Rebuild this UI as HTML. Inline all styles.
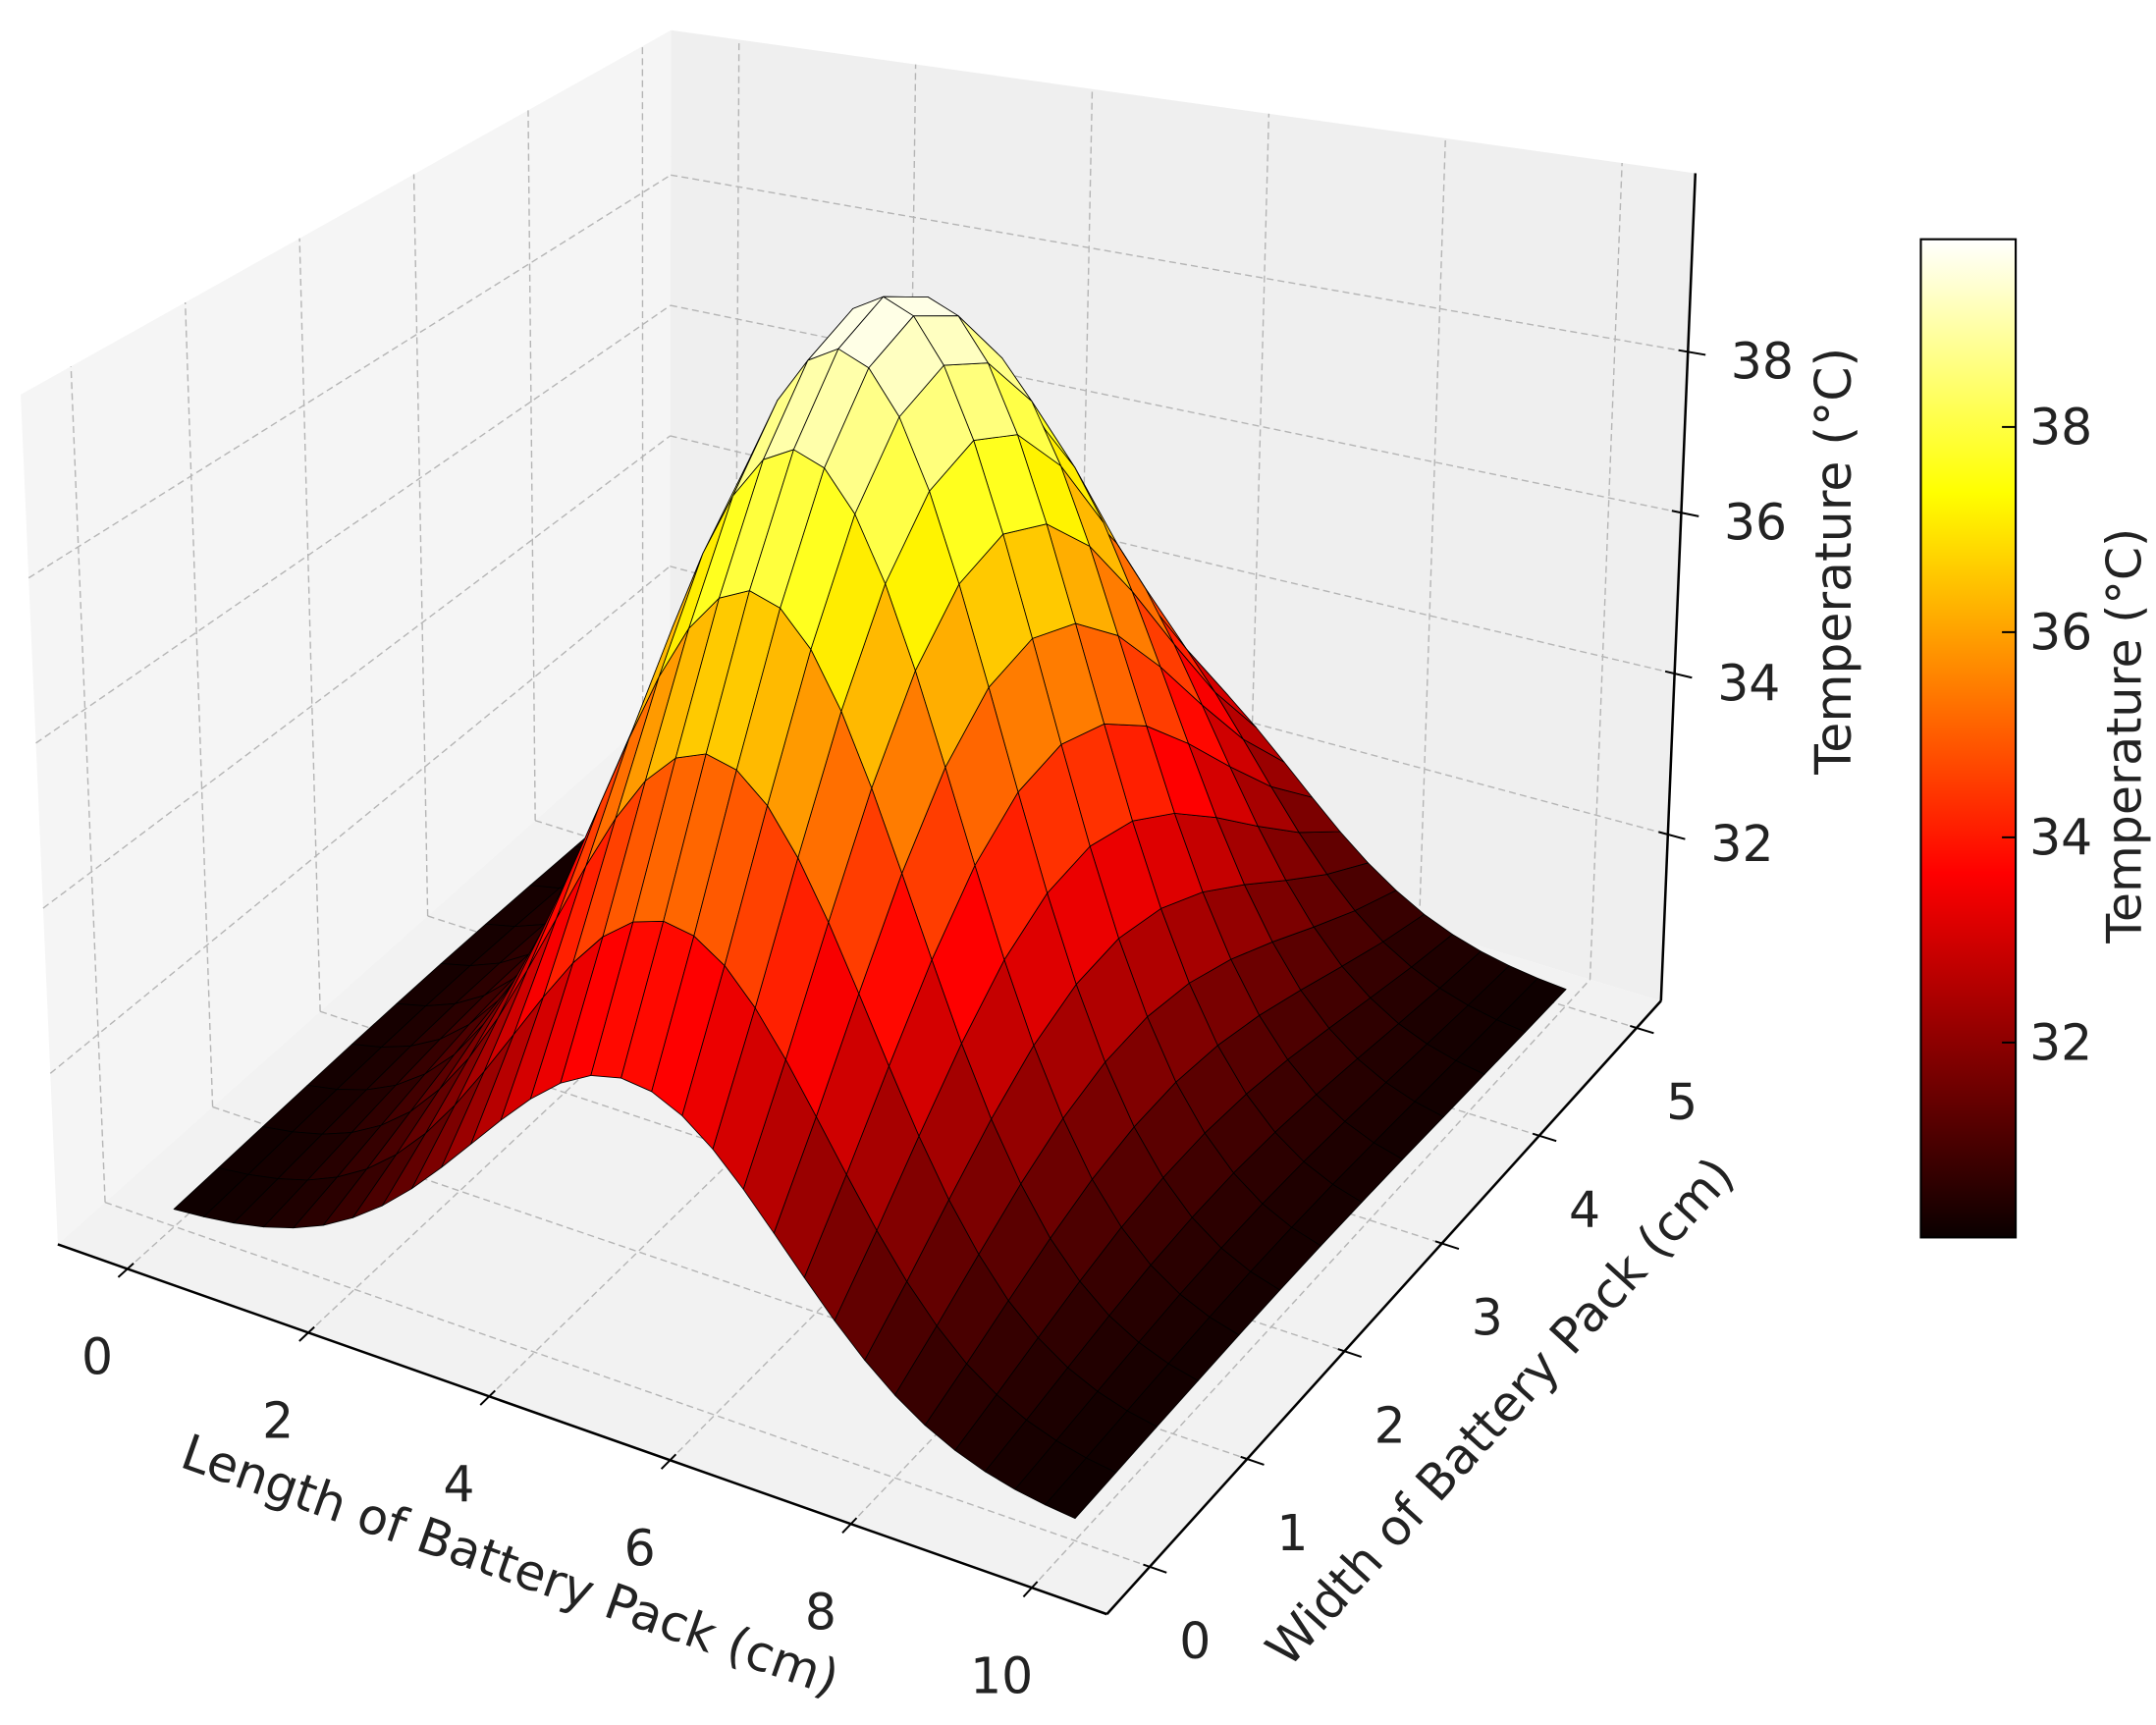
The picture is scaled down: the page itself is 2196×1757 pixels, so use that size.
<!DOCTYPE html>
<html><head><meta charset="utf-8"><title>Battery temperature surface</title>
<style>html,body{margin:0;padding:0;background:#fff}svg{display:block}text{font-family:"DejaVu Sans","Liberation Sans",sans-serif;fill:#222}</style>
</head><body>
<svg id="chart" xmlns="http://www.w3.org/2000/svg" width="2196" height="1757" viewBox="0 0 1568 1254.6">
<defs>
<linearGradient id="hotGrad" x1="0" y1="0" x2="0" y2="1">
<stop offset="0" stop-color="#ffffff"/><stop offset="0.254" stop-color="#ffff00"/><stop offset="0.635" stop-color="#ff0000"/><stop offset="1" stop-color="#0a0000"/>
</linearGradient>
</defs>
<g id="panes"></g>
<g id="grid"></g>
<g id="surface"></g>
<g id="axes"></g>
<text font-size="36" text-anchor="middle" transform="translate(367,1150) rotate(19.4)">Length of Battery Pack (cm)</text>
<text font-size="36" text-anchor="middle" transform="translate(1100,1035) rotate(-47.7)">Width of Battery Pack (cm)</text>
<text font-size="36" text-anchor="middle" transform="translate(1346,408) rotate(-90)">Temperature (°C)</text>
<g id="colorbar">
<rect x="1397" y="174" width="69" height="726" fill="url(#hotGrad)" stroke="#000" stroke-width="1.5"/>
</g>
<text font-size="35" text-anchor="middle" transform="translate(1557,535) rotate(-90)">Temperature (°C)</text>
</svg>
<script>
// ---- data ----
const xValues = [0,0.333,0.667,1,1.333,1.667,2,2.333,2.667,3,3.333,3.667,4,4.333,4.667,5,5.333,5.667,6,6.333,6.667,7,7.333,7.667,8,8.333,8.667,9,9.333,9.667,10];
const yValues = [0,0.417,0.833,1.25,1.667,2.083,2.5,2.917,3.333,3.75,4.167,4.583,5];
const lengthProfile = [0.013,0.023,0.039,0.063,0.098,0.146,0.211,0.292,0.390,0.501,0.618,0.735,0.841,0.926,0.981,1,0.981,0.926,0.841,0.735,0.618,0.501,0.390,0.292,0.211,0.146,0.098,0.063,0.039,0.023,0.013];
const widthProfile = [0.315,0.448,0.598,0.749,0.880,0.968,1,0.968,0.880,0.749,0.598,0.448,0.315];
const baseTemp = [30.1];
const peakRise = [9.73];
const xTicks = [0,2,4,6,8,10];
const yTicks = [0,1,2,3,4,5];
const zTicks = [32,34,36,38];
const cbarTicks = [32,34,36,38];

// ---- projection (box corners in view coords) ----
const X0=-0.77,X1=10.83,Y0=-0.44,Y1=5.25,Z0=29.93,Z1=40.22;
const C = {
 p000:[42,905],p100:[805,1174],p110:[1208,728],p010:[487,510],
 p001:[15,287],p101:[812,350],p111:[1233,126],p011:[488,22]
};
function proj(x,y,z){
 const u=(x-X0)/(X1-X0), v=(y-Y0)/(Y1-Y0), w=(z-Z0)/(Z1-Z0);
 function bil(a,b,c,d){
  return [0,1].map(k=>(1-u)*(1-v)*a[k]+u*(1-v)*b[k]+u*v*c[k]+(1-u)*v*d[k]);
 }
 const lo=bil(C.p000,C.p100,C.p110,C.p010), hi=bil(C.p001,C.p101,C.p111,C.p011);
 return [lo[0]+(hi[0]-lo[0])*w, lo[1]+(hi[1]-lo[1])*w];
}
const VMIN=30.1,VMAX=39.83;
function hot(t){
 t=Math.max(0,Math.min(1,t));
 const r=Math.min(1,0.0416+t/0.365*(1-0.0416)), g=Math.max(0,Math.min(1,(t-0.365)/0.381)), b=Math.max(0,Math.min(1,(t-0.746)/0.254));
 return `rgb(${Math.round(r*255)},${Math.round(g*255)},${Math.round(b*255)})`;
}
const NS='http://www.w3.org/2000/svg';
function mk(tag,attrs,parent){const e=document.createElementNS(NS,tag);for(const k in attrs)e.setAttribute(k,attrs[k]);parent.appendChild(e);return e;}
const pt=p=>p[0].toFixed(1)+','+p[1].toFixed(1);

// ---- panes ----
const panes=document.getElementById('panes');
let e;
e=mk('polygon',{points:[C.p000,C.p010,C.p011,C.p001].map(pt).join(' '),fill:'#f5f5f5'},panes);


e=mk('polygon',{points:[C.p010,C.p110,C.p111,C.p011].map(pt).join(' '),fill:'#efefef'},panes);


e=mk('polygon',{points:[C.p000,C.p100,C.p110,C.p010].map(pt).join(' '),fill:'#f2f2f2'},panes);



// ---- grid ----
const grid=document.getElementById('grid');
function gline(a,b,name){const l=mk('line',{x1:a[0],y1:a[1],x2:b[0],y2:b[1],stroke:'#b5b5b5','stroke-width':1,'stroke-dasharray':'5 3'},grid);
 
 }
xTicks.forEach(t=>{gline(proj(t,Y0,Z0),proj(t,Y1,Z0),'floor-grid-x');gline(proj(t,Y1,Z0),proj(t,Y1,Z1),'back-grid-x');});
yTicks.forEach(t=>{gline(proj(X0,t,Z0),proj(X1,t,Z0),'floor-grid-y');gline(proj(X0,t,Z0),proj(X0,t,Z1),'left-grid-y');});
zTicks.forEach(t=>{gline(proj(X0,Y0,t),proj(X0,Y1,t),'left-grid-z');gline(proj(X0,Y1,t),proj(X1,Y1,t),'back-grid-z');});

// ---- surface ----
const surf=document.getElementById('surface');
const Z=yValues.map((y,j)=>xValues.map((x,i)=>baseTemp[0]+peakRise[0]*lengthProfile[i]*widthProfile[j]));
const faces=[];
for(let j=0;j<yValues.length-1;j++)for(let i=0;i<xValues.length-1;i++){
 const c=[[i,j],[i+1,j],[i+1,j+1],[i,j+1]];
 const zs=c.map(([a,b])=>Z[b][a]);
 const zm=zs.reduce((s,v)=>s+v,0)/4;
 const u=((xValues[i]+xValues[i+1])/2-X0)/(X1-X0), v=((yValues[j]+yValues[j+1])/2-Y0)/(Y1-Y0), w=(zm-Z0)/(Z1-Z0);
 const key=0.433*u*1.3-0.75*v+0.5*w*0.9;
 faces.push({c,zs,zm,key});
}
faces.sort((a,b)=>a.key-b.key);
faces.forEach(f=>{
 const pts=f.c.map(([a,b],k)=>proj(xValues[a],yValues[b],f.zs[k]));
 const col=hot((f.zm-VMIN)/(VMAX-VMIN));
 const p=mk('polygon',{points:pts.map(pt).join(' '),fill:col,stroke:'#000','stroke-width':0.6,'stroke-linejoin':'round'},surf);
 
 
});

// ---- axes ----
const axes=document.getElementById('axes');
function aline(a,b,name,w){const l=mk('line',{x1:a[0],y1:a[1],x2:b[0],y2:b[1],stroke:'#000','stroke-width':w||1.8},axes);
 
 }
function txt(p,s,name,anchor){const t=mk('text',{x:p[0],y:p[1],'font-size':36,'text-anchor':anchor||'middle','dominant-baseline':'central'},axes);t.textContent=s;
 
 }
function unit(a,b){const dx=b[0]-a[0],dy=b[1]-a[1],L=Math.hypot(dx,dy);return [dx/L,dy/L];}
aline(C.p000,C.p100,'x-axis-line');
aline(C.p100,C.p110,'y-axis-line');
aline(C.p110,C.p111,'z-axis-line');
xTicks.forEach(t=>{
 const p=proj(t,Y0,Z0), d=unit(p,proj(t,Y0+1,Z0));
 aline([p[0]-d[0]*9,p[1]-d[1]*9],[p[0]+d[0]*6,p[1]+d[1]*6],'x-tick',1.4);
 txt([p[0]-22,p[1]+64],String(t),'x-tick-label');
});
yTicks.forEach(t=>{
 const p=proj(X1,t,Z0), d=unit(proj(X1-1,t,Z0),p);
 aline([p[0]-d[0]*5,p[1]-d[1]*5],[p[0]+d[0]*13,p[1]+d[1]*13],'y-tick',1.4);
 txt([p[0]+33,p[1]+54],String(t),'y-tick-label');
});
zTicks.forEach(t=>{
 const p=proj(X1,Y1,t), d=unit(proj(X1-1,Y1,t),p);
 aline([p[0]-d[0]*7,p[1]-d[1]*7],[p[0]+d[0]*13,p[1]+d[1]*13],'z-tick',1.4);
 txt([p[0]+54,p[1]+7],String(t),'z-tick-label');
});

// ---- colorbar ticks ----
const cb=document.getElementById('colorbar');
const cbTop=174,cbBot=900;
cbarTicks.forEach(t=>{
 const y=cbBot-(t-VMIN)/(VMAX-VMIN)*(cbBot-cbTop);
 const l=mk('line',{x1:1456,y1:y,x2:1466,y2:y,stroke:'#000','stroke-width':1.4},cb);
 
 
 const tx=mk('text',{x:1476,y:y,'font-size':36,'dominant-baseline':'central'},cb);
 tx.textContent=String(t);
 
 
});
</script>
</body></html>
